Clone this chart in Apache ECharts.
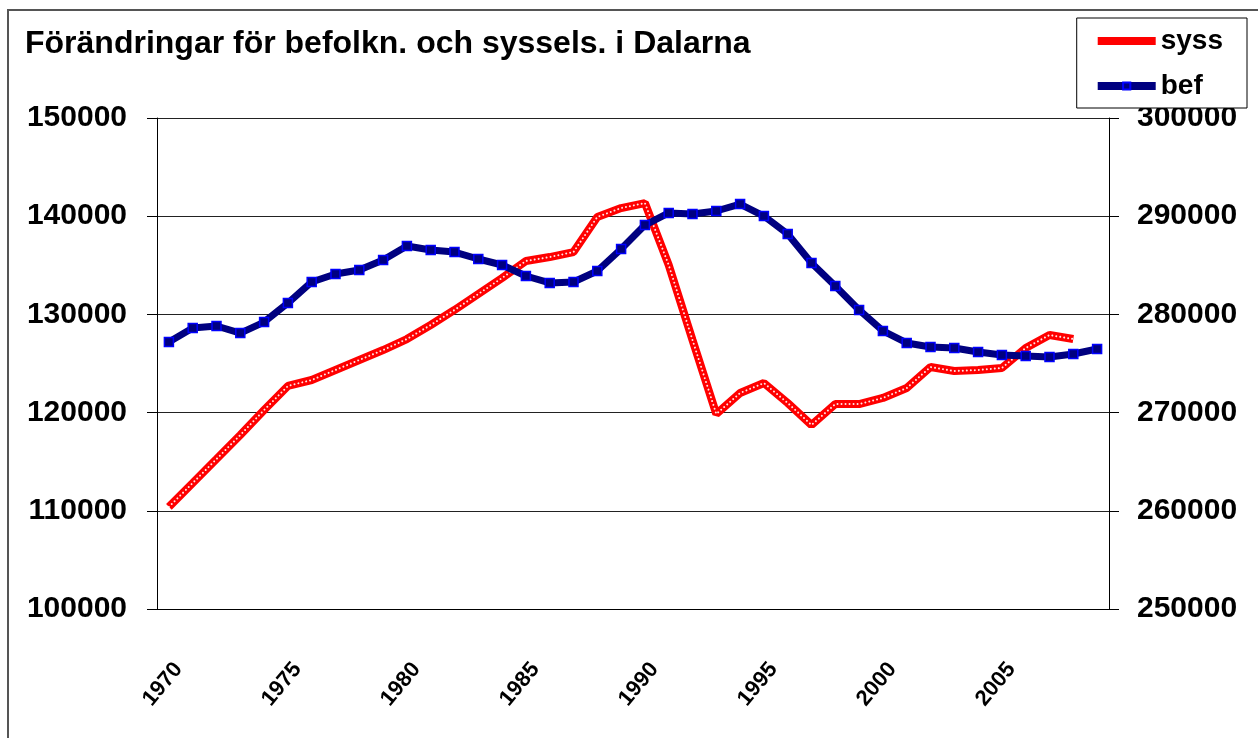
<!DOCTYPE html>
<html>
<head>
<meta charset="utf-8">
<script src="https://cdn.jsdelivr.net/npm/echarts@6/dist/echarts.min.js"></script>
<style>
  html, body { margin: 0; padding: 0; background: #fff; }
  #chart { width: 1258px; height: 738px; }
</style>
</head>
<body>
<div id="chart"></div>
<script>
// years on the x axis
const years = [];
for (let y = 1970; y <= 2009; y++) years.push(String(y));

// sysselsatta (left axis)
const syss = [
  110400, 112830, 115270, 117720, 120260, 122710, 123320, 124340, 125360, 126370,
  127490, 128920, 130450, 132080, 133710, 135440, 135840, 136350, 139920, 140830,
  141340, 135030, 127390, 119860, 121990, 123010, 120980, 118740, 120870, 120870,
  121490, 122500, 124640, 124230, 124340, 124540, 126580, 127900, 127490, null
];

// befolkning (right axis)
const bef = [
  277190, 278620, 278820, 278100, 279220, 281160, 283300, 284110, 284520, 285540,
  286970, 286560, 286350, 285640, 285030, 283910, 283200, 283300, 284420, 286660,
  289100, 290330, 290220, 290530, 291240, 290020, 288190, 285230, 282890, 280450,
  278310, 277090, 276680, 276580, 276170, 275860, 275760, 275660, 275970, 276480
];

const font = "Arial, 'Liberation Sans', sans-serif";
const plain = (v) => String(v); // no thousands separator

const chart = echarts.init(document.getElementById("chart"));
chart.setOption({
  backgroundColor: "#fff",
  animation: false,
  title: {
    text: "Förändringar för befolkn. och syssels. i Dalarna",
    left: 25,
    top: 28,
    padding: 0,
    textStyle: { fontFamily: font, fontSize: 32, fontWeight: "bold", color: "#000" }
  },
  legend: {
    data: ["syss", "bef"],
    orient: "vertical",
    right: 11,
    top: 18,
    padding: [9, 24, 8, 17],
    itemGap: 17,
    itemWidth: 58,
    itemHeight: 9,
    borderColor: "#000",
    borderWidth: 1,
    backgroundColor: "#fff",
    lineStyle: { width: 8, cap: "butt" },
    textStyle: { fontFamily: font, fontSize: 28, fontWeight: "bold", color: "#000" }
  },
  graphic: [
    {
      type: "rect",
      shape: { x: 8, y: 10, width: 1260, height: 740 },
      style: { fill: "none", stroke: "#555", lineWidth: 2 },
      silent: true,
      z: -1
    }
  ],
  grid: { left: 157, right: 149, top: 118, bottom: 129 },
  xAxis: {
    type: "category",
    data: years,
    boundaryGap: true,
    axisLine: { lineStyle: { color: "#000", width: 1 } },
    axisTick: { interval: 0, length: 12, lineStyle: { color: "#000" } },
    axisLabel: {
      interval: 4,
      rotate: 50,
      margin: 68,
      padding: [0, -15, 0, 0],
      fontFamily: font,
      fontSize: 22,
      fontWeight: "bold",
      color: "#000"
    }
  },
  yAxis: [
    {
      type: "value",
      min: 100000,
      max: 150000,
      interval: 10000,
      axisLine: { show: true, lineStyle: { color: "#000" } },
      axisTick: { show: true, length: 10, lineStyle: { color: "#000" } },
      splitLine: { lineStyle: { color: "#222", width: 1 } },
      axisLabel: { margin: 30, formatter: plain, fontFamily: font, fontSize: 30, fontWeight: "bold", color: "#000" }
    },
    {
      type: "value",
      position: "right",
      min: 250000,
      max: 300000,
      interval: 10000,
      axisLine: { show: true, lineStyle: { color: "#000" } },
      axisTick: { show: true, length: 10, lineStyle: { color: "#000" } },
      splitLine: { show: false },
      axisLabel: { margin: 28, formatter: plain, fontFamily: font, fontSize: 30, fontWeight: "bold", color: "#000" }
    }
  ],
  series: [
    {
      name: "syss",
      type: "line",
      yAxisIndex: 0,
      data: syss,
      symbol: "none",
      color: "#ff0000",
      lineStyle: { color: "#ff0000", width: 8 },
      z: 2
    },
    {
      // small white dots on top of the red line
      name: "syss-dots",
      type: "line",
      yAxisIndex: 0,
      data: syss,
      symbol: "none",
      silent: true,
      lineStyle: { color: "rgba(255,255,255,0.9)", width: 2, cap: "round", type: [0.01, 4] },
      z: 3
    },
    {
      name: "bef",
      type: "line",
      yAxisIndex: 1,
      data: bef,
      symbol: "rect",
      symbolSize: 9,
      showAllSymbol: true,
      color: "#000080",
      lineStyle: { color: "#000080", width: 7 },
      itemStyle: { color: "#000080", borderColor: "#0000ff", borderWidth: 1.5 },
      z: 4
    }
  ]
});
</script>
</body>
</html>
